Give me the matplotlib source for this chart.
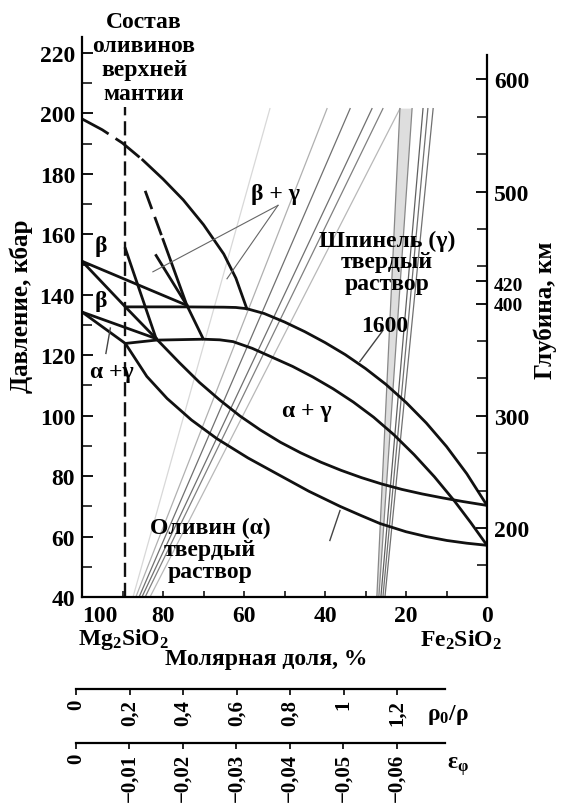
import numpy as np
import matplotlib
matplotlib.use('Agg')
import matplotlib.pyplot as plt
from matplotlib.ticker import MultipleLocator, FixedLocator
import matplotlib.transforms as mtransforms

plt.rcParams['font.family'] = ['Liberation Serif', 'DejaVu Serif']
plt.rcParams['font.weight'] = 'bold'
plt.rcParams['mathtext.fontset'] = 'custom'
plt.rcParams['mathtext.rm'] = 'Liberation Serif:bold'
plt.rcParams['mathtext.it'] = 'Liberation Serif:bold'
plt.rcParams['mathtext.bf'] = 'Liberation Serif:bold'

# composition: mol. % Mg2SiO4 (x), pressure in kbar (p)
upper_dash_x = [100, 95, 90, 85]
upper_dash_p = [198.2, 194.6, 190.2, 184.6]
upper_x = [85, 80, 75, 70, 65, 62, 59.3]
upper_p = [184.6, 178.3, 171.4, 163.2, 153.5, 145.5, 135.4]

mid_dash_x = [84.4, 80.0]
mid_dash_p = [174.4, 158.3]
mid_x = [80.0, 74.1, 70.1]
mid_p = [158.3, 136.5, 125.5]

short_x = [81.7, 74.1]
short_p = [153.0, 136.5]
mantle_line_x = [89.3, 81.7]
mantle_line_p = [155.3, 125.5]
a_d_x = [100, 74.1]
a_d_p = [151.1, 136.5]
a_e_x = [100, 89.3, 81.7]
a_e_p = [151.1, 136.0, 125.5]
b_e_x = [100, 81.7]
b_e_p = [134.3, 125.5]

# alpha + gamma loops
hi_top_x = [89.3, 75, 65, 62, 59.3, 55, 50, 45, 40, 35, 30, 25, 20, 15, 10, 5, 0]
hi_top_p = [136.0, 136.0, 135.9, 135.8, 135.4, 133.8, 131.0, 127.8, 124.2, 120.2,
            115.6, 110.4, 104.4, 97.6, 89.8, 80.8, 70.3]
lo_top_x = [89.3, 81.7, 70.1, 66, 62.7, 58, 53, 48, 43, 38, 33, 28, 23, 18, 13, 8, 4, 0]
lo_top_p = [123.9, 125.0, 125.3, 125.1, 124.5, 122.3, 119.3, 116.3, 112.8, 108.9,
            104.5, 99.5, 93.7, 87.1, 79.8, 71.7, 64.6, 57.1]
hi_bot_x = [81.7, 76, 71, 66, 61, 56, 51, 46, 41, 36, 31, 26, 21, 16, 11, 6, 0]
hi_bot_p = [125.5, 117.6, 111.0, 105.2, 99.9, 95.3, 91.2, 87.7, 84.6, 81.9, 79.5,
            77.4, 75.6, 74.1, 72.8, 71.6, 70.3]
lo_bot_x = [100, 89.3, 84, 79, 73, 66.7, 59, 51.1, 44, 36.3, 31, 26.4, 20, 15, 9.9, 5, 0]
lo_bot_p = [134.3, 123.9, 113.0, 105.7, 98.6, 92.4, 86.0, 80.2, 75.0, 70.0, 66.9,
            64.3, 61.6, 60.0, 58.7, 57.8, 57.1]

mantle_x = 89.3

# thin grey lines (bottom / top composition, P 40 -> 201.6)
slant_bot = [87.4, 86.7, 85.9, 85.2, 84.4, 83.2]
slant_top = [53.6, 39.5, 33.8, 28.4, 25.7, 21.5]
slant_col = ['#d8d8d8', '#b0b0b0', '#707070', '#707070', '#808080', '#b8b8b8']
vert_bot = [27.2, 26.7, 26.2, 25.7, 25.2]
vert_top = [21.5, 18.5, 15.8, 14.6, 13.3]
vert_col = ['#888888', '#888888', '#606060', '#707070', '#707070']
grey_p = [40, 201.6]

# right axis: depth, km
depth_ticks = [200, 300, 400, 420, 500, 600]
depth_minor = [166.7, 233.3, 266.7, 333.3, 366.7, 433.3, 466.7, 533.3, 566.7]
# lower scales
rho_ticks = [0, 0.2, 0.4, 0.6, 0.8, 1.0, 1.2]
rho_labels = ['0', '0,2', '0,4', '0,6', '0,8', '1', '1,2']
eps_ticks = [0, -0.01, -0.02, -0.03, -0.04, -0.05, -0.06]
eps_labels = ['0', '\u22120,01', '\u22120,02', '\u22120,03', '\u22120,04', '\u22120,05', '\u22120,06']

W, H = 567, 804
fig = plt.figure(figsize=(W / 100, H / 100), dpi=100)
ax = fig.add_axes([82 / W, 1 - 598 / H, 405 / W, 560 / H])
ax.set_xlim(100, 0)
ax.set_ylim(40, 225.3)

for xb, xt, c in zip(slant_bot, slant_top, slant_col):
    ax.plot([xb, xt], grey_p, color=c, lw=0.9)
ax.fill([vert_bot[0], vert_top[0], vert_top[1], vert_bot[1]],
        [grey_p[0], grey_p[1], grey_p[1], grey_p[0]], color='#dedede', lw=0)
for xb, xt, c in zip(vert_bot, vert_top, vert_col):
    ax.plot([xb, xt], grey_p, color=c, lw=0.9)

lw = 2.0
k = '#111111'
ax.plot(upper_dash_x, upper_dash_p, color=k, lw=lw, dashes=(11, 3))
ax.plot(upper_x, upper_p, color=k, lw=lw)
ax.plot(mid_dash_x, mid_dash_p, color=k, lw=lw, dashes=(7, 3))
ax.plot(mid_x, mid_p, color=k, lw=lw)
for xs, ps in [(short_x, short_p), (mantle_line_x, mantle_line_p), (a_d_x, a_d_p),
               (a_e_x, a_e_p), (b_e_x, b_e_p), (hi_top_x, hi_top_p),
               (lo_top_x, lo_top_p), (hi_bot_x, hi_bot_p), (lo_bot_x, lo_bot_p)]:
    ax.plot(xs, ps, color=k, lw=lw, solid_joinstyle='round')

ax.plot([mantle_x, mantle_x], [40, 202.2], color=k, lw=1.7, dashes=(6, 2.5))

# leaders
ax.plot([51.6, 82.5], [169.6, 147.6], color='#666666', lw=0.8)
ax.plot([51.6, 64.2], [169.6, 145.3], color='#666666', lw=0.8)
ax.plot([25.7, 31.4], [128.2, 117.9], color='#444444', lw=1.0)
ax.plot([38.8, 36.3], [58.7, 68.6], color='#444444', lw=1.0)
ax.plot([94.1, 93.0], [120.6, 129.0], color='#444444', lw=1.0)

fs = 17
ax.text(95.3, 156.3, '\u03b2', fontsize=fs, ha='center', va='center')
ax.text(95.3, 138.1, '\u03b2', fontsize=fs, ha='center', va='center')
ax.text(98, 114.6, '\u03b1 +\u03b3', fontsize=fs, ha='left', va='center')
ax.text(52.3, 173.4, '\u03b2 + \u03b3', fontsize=fs, ha='center', va='center')
ax.text(44.4, 101.7, '\u03b1 + \u03b3', fontsize=fs, ha='center', va='center')
ax.text(25.2, 129.8, '1600', fontsize=fs, ha='center', va='center')
ax.text(24.7, 150.9, '\u0428\u043f\u0438\u043d\u0435\u043b\u044c (\u03b3)\n\u0442\u0432\u0435\u0440\u0434\u044b\u0439\n\u0440\u0430\u0441\u0442\u0432\u043e\u0440',
        fontsize=fs, ha='center', va='center', linespacing=1.05)
ax.text(68.4, 55.7, '\u041e\u043b\u0438\u0432\u0438\u043d (\u03b1)\n\u0442\u0432\u0435\u0440\u0434\u044b\u0439\n\u0440\u0430\u0441\u0442\u0432\u043e\u0440',
        fontsize=fs, ha='center', va='center', linespacing=1.05)

# axes styling
for s in ['top', 'right']:
    ax.spines[s].set_visible(False)
for s in ['left', 'bottom']:
    ax.spines[s].set_linewidth(1.6)
ax.yaxis.set_major_locator(MultipleLocator(20))
ax.yaxis.set_minor_locator(MultipleLocator(10))
ax.xaxis.set_major_locator(FixedLocator([100, 80, 60, 40, 20, 0]))
ax.xaxis.set_minor_locator(MultipleLocator(10))
ax.tick_params(axis='y', which='major', direction='in', length=8, width=1.3, labelsize=fs, pad=5)
ax.tick_params(axis='y', which='minor', direction='in', length=7, width=1.1)
ax.tick_params(axis='x', which='both', direction='in', length=4, width=1.1, labelsize=fs, pad=6)
ax.xaxis.get_major_ticks()[0].label1.set_horizontalalignment('left')

ax2 = ax.twinx()
ax2.set_ylim(138.3, 637.9)
for s in ['top', 'left', 'bottom']:
    ax2.spines[s].set_visible(False)
ax2.spines['right'].set_bounds(138.3, 621.6)
ax2.spines['right'].set_linewidth(1.6)
ax2.yaxis.set_major_locator(FixedLocator(depth_ticks))
ax2.yaxis.set_minor_locator(FixedLocator(depth_minor))
ax2.tick_params(axis='y', which='major', direction='in', length=8, width=1.3, labelsize=fs, pad=5)
ax2.tick_params(axis='y', which='minor', direction='in', length=7, width=1.1)
for t, v in zip(ax2.yaxis.get_major_ticks(), depth_ticks):
    if v in (400, 420):
        t.label2.set_fontsize(14)
    if v == 420:
        t.label2.set_transform(t.label2.get_transform() +
                               mtransforms.ScaledTranslation(0, -0.02, fig.dpi_scale_trans))

fig.text(21 / W, 1 - 306 / H, '\u0414\u0430\u0432\u043b\u0435\u043d\u0438\u0435, \u043a\u0431\u0430\u0440',
         rotation=90, ha='center', va='center', fontsize=18)
fig.text(545 / W, 1 - 310 / H, '\u0413\u043b\u0443\u0431\u0438\u043d\u0430, \u043a\u043c',
         rotation=90, ha='center', va='center', fontsize=18)
fig.text(78 / W, 1 - 640 / H, r'$\mathrm{Mg_2SiO_2}$', ha='left', va='center', fontsize=fs)
fig.text(502 / W, 1 - 640 / H, r'$\mathrm{Fe_2SiO_2}$', ha='right', va='center', fontsize=fs)
fig.text(266 / W, 1 - 660 / H, '\u041c\u043e\u043b\u044f\u0440\u043d\u0430\u044f \u0434\u043e\u043b\u044f, %',
         ha='center', va='center', fontsize=fs)

title = ['\u0421\u043e\u0441\u0442\u0430\u0432', '\u043e\u043b\u0438\u0432\u0438\u043d\u043e\u0432',
         '\u0432\u0435\u0440\u0445\u043d\u0435\u0439', '\u043c\u0430\u043d\u0442\u0438\u0438']
for i, line in enumerate(title):
    fig.text(144 / W, 1 - (28 + 24 * i) / H, line, ha='center', va='baseline', fontsize=fs)

# lower scales
def scale_axis(y, ticks, labels, lim):
    a = fig.add_axes([76 / W, 1 - y / H, 369 / W, 0.0001])
    a.set_xlim(*lim)
    a.set_yticks([])
    for s in ['top', 'left', 'right']:
        a.spines[s].set_visible(False)
    a.spines['bottom'].set_linewidth(1.6)
    a.set_xticks(ticks)
    a.set_xticklabels(labels, rotation=90)
    a.tick_params(axis='x', direction='out', length=4, width=1.2, labelsize=15, pad=3)
    a.patch.set_visible(False)
    return a

scale_axis(690, rho_ticks, rho_labels, (0, 1.379))
scale_axis(744, eps_ticks, eps_labels, (0, -0.0690))
fig.text(448 / W, 1 - 715 / H, r'$\mathrm{\rho_0/\rho}$', ha='center', va='center', fontsize=fs)
fig.text(458 / W, 1 - 767 / H, r'$\mathrm{\varepsilon_\varphi}$', ha='center', va='center', fontsize=fs)

fig.savefig('out.png', dpi=100)
